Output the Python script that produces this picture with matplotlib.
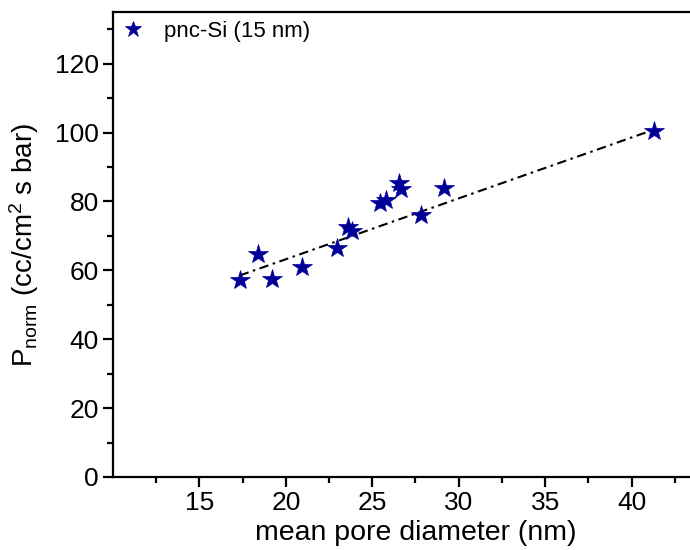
import numpy as np
import matplotlib.pyplot as plt

plt.rcParams['font.family'] = ['Liberation Sans', 'DejaVu Sans']
plt.rcParams['mathtext.fontset'] = 'custom'
plt.rcParams['mathtext.rm'] = 'Liberation Sans'
plt.rcParams['mathtext.it'] = 'Liberation Sans:italic'

# pore diameter (nm) vs normalised permeance
pore_diam = [17.33, 18.40, 19.20, 20.94, 22.93, 23.60, 23.80,
             25.47, 25.82, 26.53, 26.65, 27.79, 29.14, 41.29]
p_norm = [57.3, 64.8, 57.5, 61.0, 66.5, 72.5, 71.5,
          79.6, 80.3, 85.5, 83.6, 76.2, 83.9, 100.4]

# fitted line
fit_slope = 1.767
fit_intercept = 27.88
fit_range = [17.33, 41.29]

star_color = '#000099'

fig = plt.figure(figsize=(6.9, 5.5), dpi=100)
# axes runs past the right edge of the picture (cropped like the original)
ax = fig.add_axes([113 / 690, 73 / 550, 605 / 690, 465 / 550])

fx = np.array(fit_range)
ax.plot(fx, fit_slope * fx + fit_intercept, color='black', lw=1.5,
        linestyle=(0, (4.5, 2.2, 1.2, 2.2)), zorder=2)
ax.plot(pore_diam, p_norm, linestyle='none', marker='*', markersize=15,
        color=star_color, markeredgewidth=0.5, label='pnc-Si (15 nm)', zorder=3)

ax.set_xlim(10, 45)
ax.set_ylim(0, 135)
ax.set_xticks([15, 20, 25, 30, 35, 40])
ax.set_xticks(np.arange(12.5, 45, 5), minor=True)
ax.set_yticks(np.arange(0, 121, 20))
ax.set_yticks(np.arange(10, 135, 20), minor=True)

for s in ax.spines.values():
    s.set_linewidth(1.6)
ax.tick_params(which='major', direction='out', length=7, width=1.6,
               labelsize=19, pad=3)
ax.tick_params(which='minor', direction='out', length=4, width=1.6)

ax.set_xlabel('mean pore diameter (nm)', fontsize=20.5, labelpad=4)
ax.set_ylabel(r'P$_{\mathrm{norm}}$ (cc/cm$^{2}$ s bar)', fontsize=20,
              labelpad=10)

ax.legend(loc='upper left', bbox_to_anchor=(0.0, 1.0), borderaxespad=0,
          frameon=False, fontsize=16, handlelength=1.0, handletextpad=0.9,
          markerscale=0.8, numpoints=1)

fig.savefig('out.png', dpi=100)
